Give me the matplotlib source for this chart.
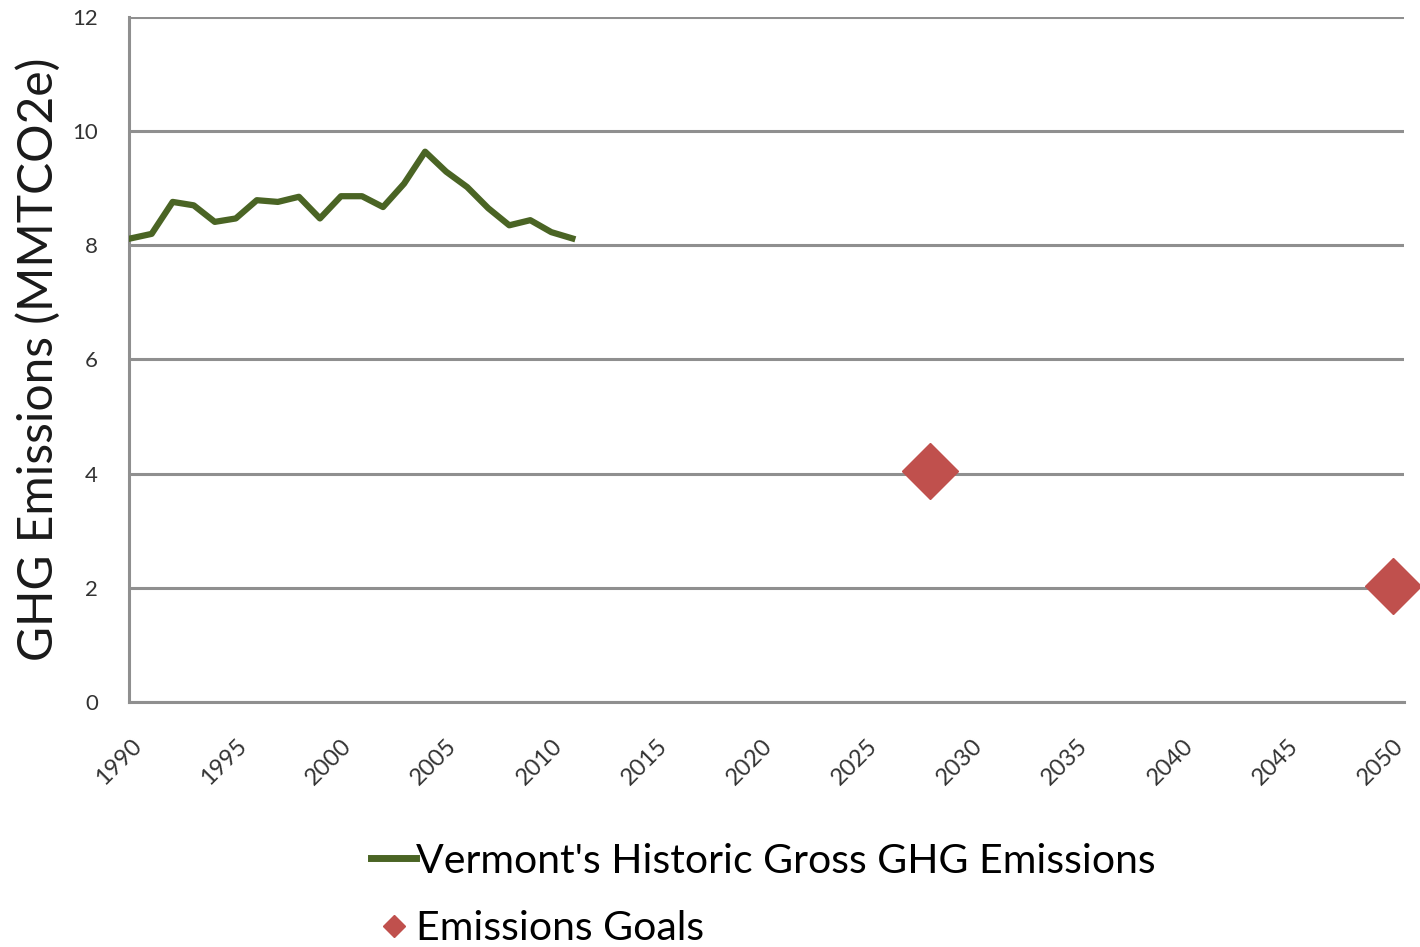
import matplotlib
matplotlib.use('Agg')
import matplotlib.pyplot as plt
from matplotlib.lines import Line2D

plt.rcParams['font.family'] = ['Lato', 'DejaVu Sans']

# historic emissions (MMTCO2e)
hist_years = list(range(1990, 2012))
hist_values = [8.12, 8.20, 8.76, 8.70, 8.41, 8.47, 8.79, 8.76, 8.85, 8.47, 8.86,
               8.86, 8.67, 9.08, 9.64, 9.29, 9.02, 8.65, 8.35, 8.44, 8.23, 8.12]
# goals
goal_years = [2028, 2050]
goal_values = [4.05, 2.03]

x_ticks = list(range(1990, 2051, 5))
y_ticks = [0, 2, 4, 6, 8, 10, 12]

green = '#4a6424'
red = '#c0504d'
grid_gray = '#8f8f8f'

fig = plt.figure(figsize=(14.2, 9.47), dpi=100)
ax = fig.add_axes([0.0905, 0.259, 0.898, 0.723])

ax.plot(hist_years, hist_values, color=green, lw=4.5, solid_joinstyle='round', zorder=3)
ax.plot(goal_years, goal_values, ls='', marker='D', ms=29, color=red, zorder=4,
        clip_on=False)

ax.set_xlim(1989.9, 2050.52)
ax.set_ylim(0, 12)
ax.set_yticks(y_ticks)
ax.set_xticks(x_ticks)
ax.set_xticklabels([str(v) for v in x_ticks], rotation=45, ha='right',
                   rotation_mode='anchor', fontsize=17, color='#333333')
ax.set_yticklabels([str(v) for v in y_ticks], fontsize=16, color='#333333')
ax.tick_params(axis='both', length=0)
ax.tick_params(axis='y', pad=22)
ax.tick_params(axis='x', pad=24)

ax.grid(axis='y', color=grid_gray, lw=2.2)
ax.set_axisbelow(True)
for s in ['top', 'right']:
    ax.spines[s].set_visible(False)
for s in ['left', 'bottom']:
    ax.spines[s].set_color(grid_gray)
    ax.spines[s].set_linewidth(2.2)

ax.set_ylabel('GHG Emissions (MMTCO2e)', fontsize=34.5, color='#1a1a1a', labelpad=8)

handles = [Line2D([], [], color=green, lw=5),
           Line2D([], [], ls='', marker='D', ms=11, color=red)]
labels = ["Vermont's Historic Gross GHG Emissions", 'Emissions Goals']
fig.legend(handles, labels, loc='center left', bbox_to_anchor=(0.247, 0.055),
           frameon=False, fontsize=29.5, handlelength=1.1, handletextpad=0.0,
           labelspacing=0.75, borderpad=0)

fig.savefig('out.png', dpi=100)
